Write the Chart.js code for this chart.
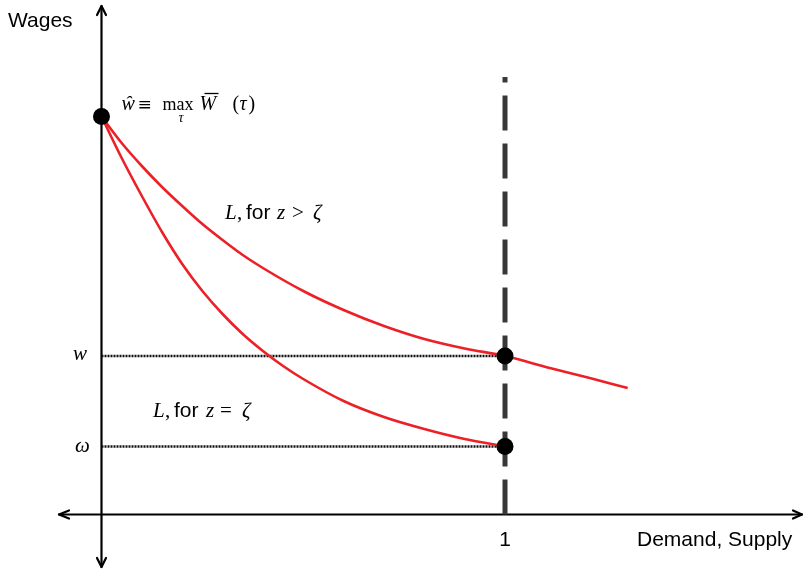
<!DOCTYPE html>
<html>
<head>
<meta charset="utf-8">
<script src="https://cdn.jsdelivr.net/npm/chart.js@4/dist/chart.umd.min.js"></script>
<style>
  html, body { margin: 0; padding: 0; background: #ffffff; }
  #wrap { width: 804px; height: 572px; }
</style>
</head>
<body>
<div id="wrap"><canvas id="c" width="804" height="572"></canvas></div>
<script>
// ---- data (diagram units: x = demand/supply, y = wage) ----
const upperX = [0, 0.05, 0.10, 0.15, 0.20, 0.25, 0.30, 0.35, 0.40, 0.50, 0.60, 0.70, 0.80, 0.90, 1.0, 1.111, 1.21, 1.304];
const upperY = [3.98, 3.715, 3.485, 3.275, 3.085, 2.905, 2.745, 2.595, 2.465, 2.235, 2.045, 1.885, 1.755, 1.66, 1.585, 1.465, 1.365, 1.265];
const lowerX = [0, 0.05, 0.10, 0.15, 0.20, 0.25, 0.30, 0.35, 0.40, 0.45, 0.50, 0.60, 0.70, 0.80, 0.90, 1.0];
const lowerY = [3.98, 3.565, 3.185, 2.825, 2.505, 2.235, 2.005, 1.805, 1.635, 1.485, 1.355, 1.135, 0.975, 0.855, 0.755, 0.68];
const wHat = 3.98;      // max wage  (w-hat)
const wHigh = 1.585;    // w
const wLow = 0.68;      // omega
const supplyX = 1;      // vertical supply line
const supplyTop = 4.375;
const xTickLabels = ['1'];
const yAxisTitle = 'Wages';
const xAxisTitle = 'Demand, Supply';

const toPts = (xs, ys) => xs.map((x, i) => ({ x: x, y: ys[i] }));

const SANS = '"Liberation Sans", Arial, Helvetica, sans-serif';
const SERIF = '"Liberation Serif", "Times New Roman", serif';
const RED = 'rgb(236,32,39)';

function runs(ctx, baseY, items) {
  items.forEach(it => {
    ctx.font = it.f;
    ctx.fillText(it.t, it.x, baseY + (it.dy || 0));
  });
}

const overlay = {
  id: 'overlay',
  beforeDatasetsDraw(chart) {
    const ctx = chart.ctx;
    const xs = chart.scales.x, ys = chart.scales.y;
    const x0 = xs.getPixelForValue(0), y0 = ys.getPixelForValue(0);
    ctx.save();
    ctx.strokeStyle = '#000';
    ctx.lineWidth = 2.2;
    ctx.lineCap = 'round';
    ctx.lineJoin = 'round';
    // y axis
    ctx.beginPath();
    ctx.moveTo(x0, 6); ctx.lineTo(x0, 567);
    ctx.stroke();
    // x axis
    ctx.beginPath();
    ctx.moveTo(59, y0); ctx.lineTo(802, y0);
    ctx.stroke();
    // arrow heads (open chevrons)
    ctx.beginPath();
    ctx.moveTo(x0 - 4.5, 15); ctx.lineTo(x0, 6); ctx.lineTo(x0 + 4.5, 15);
    ctx.moveTo(x0 - 4.5, 558); ctx.lineTo(x0, 567); ctx.lineTo(x0 + 4.5, 558);
    ctx.moveTo(69, y0 - 4); ctx.lineTo(59, y0); ctx.lineTo(69, y0 + 4);
    ctx.moveTo(793, y0 - 4); ctx.lineTo(802, y0); ctx.lineTo(793, y0 + 4);
    ctx.stroke();
    ctx.restore();
  },
  afterDatasetsDraw(chart) {
    const ctx = chart.ctx;
    const xs = chart.scales.x, ys = chart.scales.y;
    const x0 = xs.getPixelForValue(0);
    const x1 = xs.getPixelForValue(supplyX);
    const yHat = ys.getPixelForValue(wHat);
    const yW = ys.getPixelForValue(wHigh);
    const yO = ys.getPixelForValue(wLow);
    const y0 = ys.getPixelForValue(0);
    ctx.save();
    ctx.fillStyle = '#000';
    ctx.textBaseline = 'alphabetic';
    ctx.textAlign = 'left';

    // axis titles
    ctx.font = '21px ' + SANS;
    ctx.fillText(yAxisTitle, 8, 27);
    ctx.fillText(xAxisTitle, 637, y0 + 31);
    ctx.textAlign = 'center';
    ctx.fillText(xTickLabels[0], x1, y0 + 31);
    ctx.textAlign = 'left';

    // formula: ŵ ≡ max_τ W̄ (τ)
    const fb = yHat - 7;
    const itF = 'italic 20px ' + SERIF, rmF = '20px ' + SERIF;
    runs(ctx, fb, [
      { t: 'ŵ', f: itF, x: x0 + 20 },
      { t: '≡', f: '17px "DejaVu Serif", serif', x: x0 + 36 },
      { t: 'max', f: '18px ' + SERIF, x: x0 + 61 },
      { t: 'τ', f: 'italic 14px ' + SERIF, x: x0 + 77, dy: 12 },
      { t: 'W', f: itF, x: x0 + 98 },
      { t: '(', f: rmF, x: x0 + 131 },
      { t: 'τ', f: itF, x: x0 + 138 },
      { t: ')', f: rmF, x: x0 + 147 }
    ]);
    ctx.beginPath();
    ctx.lineWidth = 1.3;
    ctx.strokeStyle = '#000';
    ctx.moveTo(x0 + 103, fb - 16); ctx.lineTo(x0 + 117, fb - 16);
    ctx.stroke();

    // curve labels
    const itL = 'italic 21px ' + SERIF, rmL = '21px ' + SERIF, sf = '21px ' + SANS;
    runs(ctx, 219, [
      { t: 'L', f: itL, x: 225 },
      { t: ',', f: rmL, x: 237 },
      { t: 'for', f: sf, x: 246 },
      { t: 'z', f: itL, x: 277 },
      { t: '>', f: rmL, x: 292 },
      { t: 'ζ', f: itL, x: 313 }
    ]);
    runs(ctx, 417, [
      { t: 'L', f: itL, x: 153 },
      { t: ',', f: rmL, x: 165 },
      { t: 'for', f: sf, x: 174 },
      { t: 'z', f: itL, x: 206 },
      { t: '=', f: rmL, x: 220 },
      { t: 'ζ', f: itL, x: 242 }
    ]);

    // y-level labels
    ctx.font = itL;
    ctx.fillText('w', 73, yW + 4);
    ctx.fillText('ω', 75, yO + 5);
    ctx.restore();
  }
};

new Chart(document.getElementById('c'), {
  type: 'scatter',
  data: {
    datasets: [
      { label: 'points', data: [{ x: 0, y: wHat }, { x: supplyX, y: wHigh }, { x: supplyX, y: wLow }],
        pointRadius: 8.5, pointBackgroundColor: '#000', pointBorderColor: '#000', pointBorderWidth: 0,
        showLine: false, order: 0 },
      { label: 'L z>zeta', data: toPts(upperX, upperY), showLine: true, borderColor: RED, borderWidth: 2.6,
        pointRadius: 0, tension: 0.4, cubicInterpolationMode: 'monotone', order: 1 },
      { label: 'L z=zeta', data: toPts(lowerX, lowerY), showLine: true, borderColor: RED, borderWidth: 2.6,
        pointRadius: 0, tension: 0.4, cubicInterpolationMode: 'monotone', order: 1 },
      { label: 'w level', data: [{ x: 0, y: wHigh }, { x: supplyX, y: wHigh }], showLine: true,
        borderColor: '#111', borderWidth: 2.6, borderDash: [2, 1], pointRadius: 0, order: 2 },
      { label: 'omega level', data: [{ x: 0, y: wLow }, { x: supplyX, y: wLow }], showLine: true,
        borderColor: '#111', borderWidth: 2.6, borderDash: [2, 1], pointRadius: 0, order: 2 },
      { label: 'supply', data: [{ x: supplyX, y: 0 }, { x: supplyX, y: supplyTop }], showLine: true,
        borderColor: '#383838', borderWidth: 5, borderDash: [35, 13], borderCapStyle: 'butt',
        pointRadius: 0, order: 3 }
    ]
  },
  options: {
    responsive: false,
    animation: false,
    devicePixelRatio: 1,
    layout: { padding: 0, autoPadding: false },
    plugins: { legend: { display: false }, tooltip: { enabled: false }, title: { display: false } },
    scales: {
      x: { type: 'linear', display: false, min: -101.5 / 403.5, max: 702.5 / 403.5 },
      y: { type: 'linear', display: false, min: -0.575, max: 5.145 }
    },
    elements: { line: { fill: false } }
  },
  plugins: [overlay]
});
</script>
</body>
</html>
